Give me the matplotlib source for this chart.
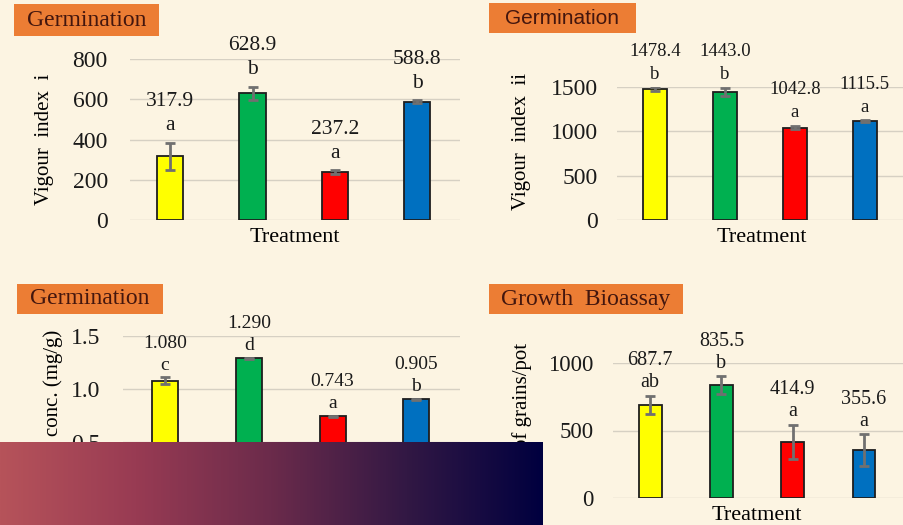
#%% Initialize workspace
import numpy as np
import matplotlib.pyplot as plt
from matplotlib.patches import Rectangle
from matplotlib.colors import LinearSegmentedColormap

plt.rcParams['font.family'] = ['Liberation Serif', 'DejaVu Serif']

#%% data
treatments = ['T1', 'T2', 'T3', 'T4']
bar_colors = ['#FFFF00', '#00B050', '#FF0000', '#0070C0']

vigour1 = [317.9, 628.9, 237.2, 588.8]
vigour1_err = [67, 32, 10, 5]
vigour1_grp = ['a', 'b', 'a', 'b']

vigour2 = [1478.4, 1443.0, 1042.8, 1115.5]
vigour2_err = [20, 50, 20, 8]
vigour2_grp = ['b', 'b', 'a', 'a']

conc = [1.080, 1.290, 0.743, 0.905]
conc_err = [0.03, 0.005, 0.005, 0.005]
conc_grp = ['c', 'd', 'a', 'b']

grains = [687.7, 835.5, 414.9, 355.6]
grains_err = [68, 68, 126, 118]
grains_grp = ['ab', 'b', 'a', 'a']

#%% figure
W, H = 904, 525
fig = plt.figure(figsize=(9.04, 5.25), dpi=100)
fig.patch.set_facecolor('#FCF4E2')


def fx(px):
    return px / W


def fy(py):
    return 1 - py / H


def panel(box, xlim, ylim, yticks, vals, errs, grps, fmt, tickfmt, bw,
          tick_fs, val_fs, pad, off1, off2):
    # box = left, top, right, bottom in pixels
    l, t, r, b = box
    ax = fig.add_axes([fx(l), fy(b), (r - l) / W, (b - t) / H])
    ax.set_facecolor('none')
    x = np.arange(len(treatments))
    ax.bar(x, vals, width=bw, color=bar_colors, edgecolor='#1E1E1E',
           linewidth=1.3, zorder=3)
    ax.errorbar(x, vals, yerr=errs, fmt='none', ecolor='#707070',
                elinewidth=2, capsize=3.5, capthick=2, zorder=4)
    for xi, v, e, g in zip(x, vals, errs, grps):
        ax.annotate(g, (xi, v + e), xytext=(0, off1), textcoords='offset pixels',
                    ha='center', va='center', fontsize=val_fs, color='#1A1A1A',
                    annotation_clip=False)
        ax.annotate(fmt.format(v), (xi, v + e), xytext=(0, off1 + off2),
                    textcoords='offset pixels', ha='center', va='center',
                    fontsize=val_fs, color='#1A1A1A', annotation_clip=False)
    ax.set_xlim(xlim)
    ax.set_ylim(ylim)
    ax.set_yticks(yticks)
    ax.set_yticklabels([tickfmt.format(v) for v in yticks])
    ax.set_xticks([])
    ax.grid(axis='y', color='#D6D0C3', linewidth=1, zorder=0)
    for s in ax.spines.values():
        s.set_visible(False)
    ax.tick_params(axis='y', length=0, pad=pad, labelsize=tick_fs, labelcolor='#1A1A1A')
    return ax


def title_box(l, t, r, b, text, fs, family=None):
    fig.add_artist(Rectangle((fx(l), fy(b)), (r - l) / W, (b - t) / H,
                             transform=fig.transFigure, facecolor='#EC7D34',
                             edgecolor='none', zorder=1))
    kw = {} if family is None else {'family': family}
    fig.text(fx((l + r) / 2), fy((t + b) / 2), text, ha='center', va='center',
             fontsize=fs, color='#43160E', zorder=2, **kw)


#%% top left - vigour index i
panel((130, 59, 460, 220), (-0.49, 3.52), (0, 800), [0, 200, 400, 600, 800],
      vigour1, vigour1_err, vigour1_grp, '{:.1f}', '{:.0f}', 0.32,
      17, 15.5, 16, 17, 24)
title_box(14, 4, 159, 36, 'Germination', 17)
fig.text(fx(45), fy(139), 'Vigour  index  i', rotation=90, ha='center',
         va='center', fontsize=15)
fig.text(fx(295), fy(238), 'Treatment', ha='center', va='center', fontsize=16)

#%% top right - vigour index ii
panel((617, 87, 904, 220), (-0.54, 3.56), (0, 1500), [0, 500, 1000, 1500],
      vigour2, vigour2_err, vigour2_grp, '{:.1f}', '{:.0f}', 0.34,
      17, 13.5, 14, 13, 23)
title_box(489, 3, 636, 33, 'Germination', 15, family='Liberation Sans')
fig.text(fx(522), fy(141), 'Vigour  index  ii', rotation=90, ha='center',
         va='center', fontsize=15)
fig.text(fx(762), fy(238), 'Treatment', ha='center', va='center', fontsize=16)

#%% bottom left - concentration
panel((123, 336, 460, 495), (-0.50, 3.52), (0, 1.5), [0, 0.5, 1.0, 1.5],
      conc, conc_err, conc_grp, '{:.3f}', '{:.1f}', 0.31,
      17, 14, 16, 12, 22)
title_box(17, 284, 163, 314, 'Germination', 17)
fig.text(fx(53), fy(330), 'conc. (mg/g)', rotation=90, ha='center',
         va='top', fontsize=15)
fig.text(fx(290), fy(513), 'Treatment', ha='center', va='center', fontsize=16)

#%% bottom right - grains per pot
panel((613, 363, 904, 498), (-0.52, 3.56), (0, 1000), [0, 500, 1000],
      grains, grains_err, grains_grp, '{:.1f}', '{:.0f}', 0.32,
      16.5, 14.5, 14, 13, 22)
title_box(489, 284, 683, 314, 'Growth  Bioassay', 17)
fig.text(fx(522), fy(343), 'No. of grains/pot', rotation=90, ha='center',
         va='top', fontsize=15)
fig.text(fx(757), fy(515), 'Treatment', ha='center', va='center', fontsize=16)

#%% gradient band over the lower left corner
gax = fig.add_axes([0, 0, 543 / W, 83 / H], zorder=10)
cmap = LinearSegmentedColormap.from_list(
    'band', ['#B6535A', '#983B53', '#6B2B4B', '#321844', '#00003F'])
gax.imshow(np.linspace(0, 1, 256).reshape(1, -1), aspect='auto', cmap=cmap,
           extent=[0, 1, 0, 1])
gax.axis('off')

fig.savefig('out.png', dpi=100, facecolor=fig.get_facecolor())
